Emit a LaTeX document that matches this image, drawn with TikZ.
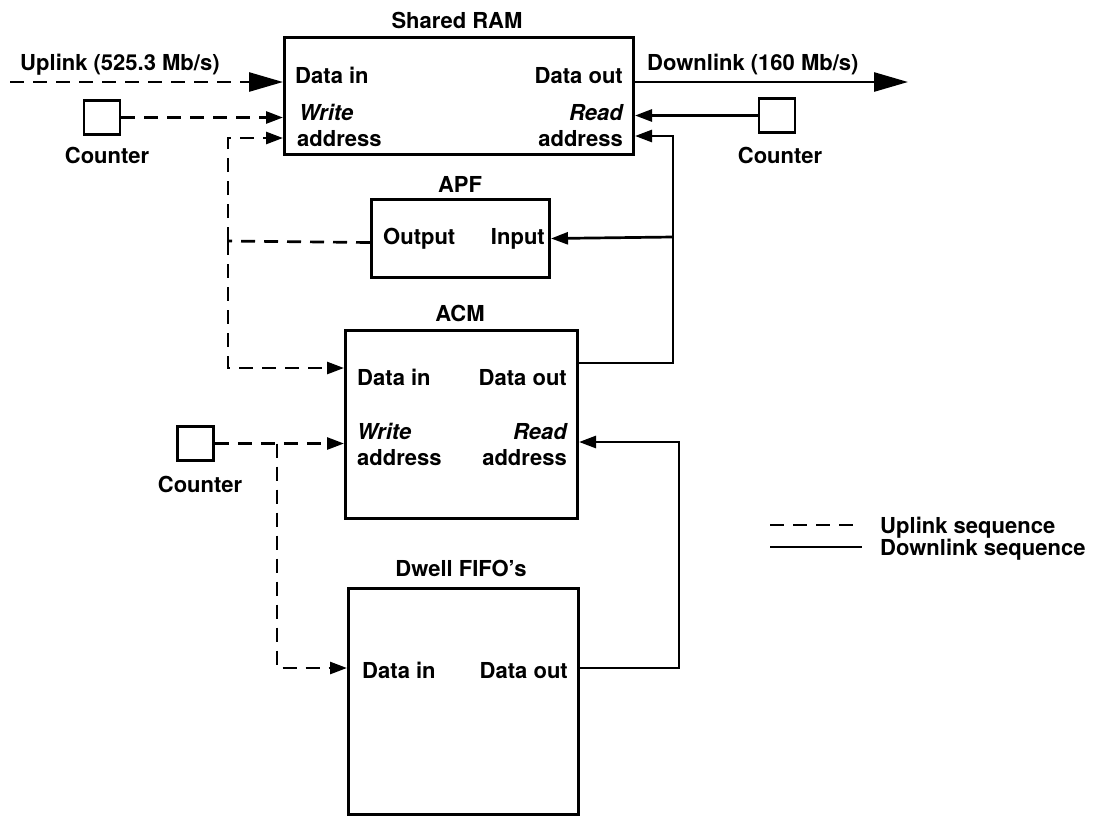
\documentclass[tikz,border=0pt]{standalone}
\usepackage{fontspec}
\setmainfont{TeX Gyre Heros}
\usetikzlibrary{arrows.meta}
\tikzset{
  box/.style={draw, line width=3pt, anchor=north west, inner sep=0pt},
  cbox/.style={draw, line width=2.8pt, minimum width=36pt, minimum height=34pt, inner sep=0pt},
  lbl/.style={inner sep=0pt, font=\fontsize{22}{26}\selectfont\bfseries, text height=16pt, text depth=0pt},
  dl/.style={line width=2.7pt, dash pattern=on 14pt off 9pt},
  sl/.style={line width=2.7pt},
  sa/.style={-{Triangle[length=17pt,width=12pt]}},
  ba/.style={-{Triangle[length=34pt,width=19pt]}},
}
\begin{document}
\begin{tikzpicture}[x=1pt,y=-1pt]
\useasboundingbox (0,0) rectangle (1103,815);
% boxes
\node[box, minimum width=349pt, minimum height=117pt] (ram) at (283,36) {};
\node[box, minimum width=178pt, minimum height=78pt] (apf) at (370,198) {};
\node[box, minimum width=232pt, minimum height=188pt] (acm) at (344,329) {};
\node[box, minimum width=230pt, minimum height=226pt] (dwell) at (347,587) {};
\node[cbox] (cnt1) at (102,117.5) {};
\node[cbox] (cnt2) at (777,115.5) {};
\node[cbox] (cnt3) at (195.5,443.5) {};
% titles
\node[lbl] (tram) at (457,20) {Shared RAM};
\node[lbl] (tapf) at (460,184) {APF};
\node[lbl] (tacm) at (460,313) {ACM};
\node[lbl] (tdw) at (461,568) {Dwell FIFO's};
% RAM labels
\node[lbl, anchor=west] (ramdin) at (295,75) {Data in};
\node[lbl, anchor=west] (ramw) at (299,112) {\itshape Write};
\node[lbl, anchor=west] (ramwa) at (297,138) {address};
\node[lbl, anchor=east] (ramdout) at (623,75) {Data out};
\node[lbl, anchor=east] (ramr) at (623,112) {\itshape Read};
\node[lbl, anchor=east] (ramra) at (623,138) {address};
% APF labels
\node[lbl, anchor=west] (apfo) at (383,236) {Output};
\node[lbl, anchor=east] (apfi) at (545,236) {Input};
% ACM labels
\node[lbl, anchor=west] (acmdin) at (357,377) {Data in};
\node[lbl, anchor=east] (acmdout) at (567,377) {Data out};
\node[lbl, anchor=west] (acmw) at (357,431) {\itshape Write};
\node[lbl, anchor=west] (acmwa) at (357,457) {address};
\node[lbl, anchor=east] (acmr) at (567,431) {\itshape Read};
\node[lbl, anchor=east] (acmra) at (567,457) {address};
% Dwell labels
\node[lbl, anchor=west] (dwdin) at (362,670) {Data in};
\node[lbl, anchor=east] (dwdout) at (568,670) {Data out};
% counters labels
\node[lbl] (lc1) at (107,155) {Counter};
\node[lbl] (lc2) at (780,155) {Counter};
\node[lbl] (lc3) at (200,484) {Counter};
% link labels
\node[lbl, anchor=west] (lup) at (20,62) {Uplink (525.3 Mb/s)};
\node[lbl, anchor=west] (ldn) at (647,62) {Downlink (160 Mb/s)};
% connectors
\coordinate (upsrc) at (10,82);
\draw[dl, ba] (upsrc) -- (upsrc -| ram.west);
\coordinate (dnend) at (908,82);
\draw[sl, ba] (dnend -| ram.east) -- (dnend);
\draw[dl, sa] (cnt1.east) -- (cnt1.east -| ram.west);
\draw[sl, sa] (cnt2.west) -- (cnt2.west -| ram.east);
\coordinate (j1) at (228,241);
\draw[dl] ([yshift=-4pt]apf.west) -- (j1);
\draw[dl, sa] (j1) |- ([yshift=18pt]ram.south west);
\draw[dl, sa] (j1) |- ([yshift=-39pt]acm.north west);
\coordinate (j2) at (673,237);
\draw[sl, sa] ([yshift=-34pt]acm.north east) -| (j2) |- ([yshift=20pt]ram.south east);
\draw[sl, sa] (j2) -- (apf.east);
\draw[dl, sa] (cnt3.east) -- (cnt3.east -| acm.west);
\coordinate (j3) at (277,443.5);
\draw[dl, sa] (j3) |- ([yshift=-81pt]dwell.north west);
\coordinate (j4) at (679,442);
\draw[sl, sa] ([yshift=-81pt]dwell.north east) -| (j4) -- (j4 -| acm.east);
% legend
\coordinate (lg1a) at (770,525);
\coordinate (lg1b) at (862,525);
\coordinate (lg2a) at (770,547);
\coordinate (lg2b) at (862,547);
\draw[dl] (lg1a) -- (lg1b);
\draw[sl] (lg2a) -- (lg2b);
\node[lbl, anchor=west] (lgu) at (880,525) {Uplink sequence};
\node[lbl, anchor=west] (lgd) at (880,547) {Downlink sequence};
\end{tikzpicture}
\end{document}
